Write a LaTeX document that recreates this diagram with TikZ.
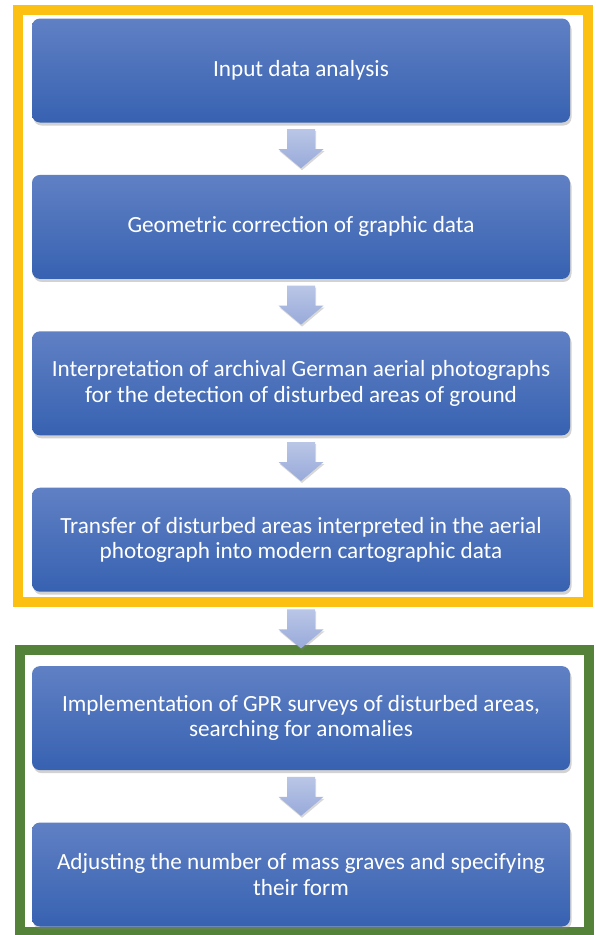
\documentclass[tikz,border=0pt]{standalone}
\usepackage{fontspec}
\setmainfont{Carlito}
\usetikzlibrary{positioning,calc,shadows}

\definecolor{boxtop}{RGB}{96,128,196}
\definecolor{boxbot}{RGB}{55,98,177}
\definecolor{arrtop}{RGB}{186,198,230}
\definecolor{arrbot}{RGB}{152,170,218}
\definecolor{frameyellow}{RGB}{252,192,18}
\definecolor{framegreen}{RGB}{84,130,56}

\tikzset{
  stage/.style={rounded corners=8pt, minimum width=538pt, minimum height=104pt,
    top color=boxtop, bottom color=boxbot, text=white, align=center,
    font=\fontsize{23.2}{25.5}\selectfont,
    drop shadow={shadow xshift=1.5pt, shadow yshift=-3pt, opacity=0.35}},
  flowarrow/.style={top color=arrtop, bottom color=arrbot,
    drop shadow={shadow xshift=1pt, shadow yshift=-2pt, opacity=0.3}},
  groupframe/.style={line width=10pt}
}

% block arrow centred in the gap between two stages
\newcommand{\blockarrow}[2]{%
  \path[flowarrow, shift={($(#1.south)!0.5!(#2.north)$)}]
    (-14,19.5) -- (14,19.5) -- (14,-0.5) -- (22.5,-0.5) -- (0,-19.5)
    -- (-22.5,-0.5) -- (-14,-0.5) -- cycle;}

\begin{document}
\begin{tikzpicture}[x=1pt,y=1pt]
  \useasboundingbox (0,0) rectangle (595,-935);
  \fill[white] (0,0) rectangle (595,-935);

  % frames
  \draw[groupframe, frameyellow] (17.7,-10) rectangle (587.7,-601.7);
  \draw[groupframe, framegreen] (20,-650) rectangle (589,-932);

  % stages
  \node[stage] (input) at (301,-70.5) {Input data analysis};
  \node[stage, below=52pt of input] (geocorr) {Geometric correction of graphic data};
  \node[stage, below=52pt of geocorr] (interp) {Interpretation of archival German aerial photographs\\for the detection of disturbed areas of ground};
  \node[stage, below=52pt of interp] (transfer) {Transfer of disturbed areas interpreted in the aerial\\photograph into modern cartographic data};
  \node[stage, below=74pt of transfer] (gpr) {Implementation of GPR surveys of disturbed areas,\\searching for anomalies};
  \node[stage, below=52pt of gpr] (graves) {Adjusting the number of mass graves and specifying\\their form};

  % arrows
  \blockarrow{input}{geocorr}
  \blockarrow{geocorr}{interp}
  \blockarrow{interp}{transfer}
  \blockarrow{transfer}{gpr}
  \blockarrow{gpr}{graves}
\end{tikzpicture}
\end{document}
